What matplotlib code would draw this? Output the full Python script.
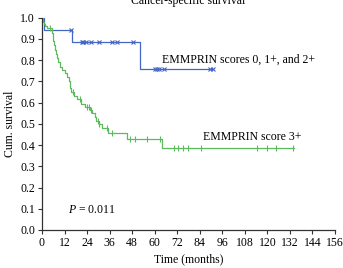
import numpy as np
import matplotlib
matplotlib.use("Agg")
import matplotlib.pyplot as plt

# EMMPRIN scores 0, 1+, 2+ (blue)
blue_t = [0, 1, 16, 52.2, 91]
blue_s = [1.0, 0.944, 0.885, 0.758, 0.758]
blue_cens = [15.6, 21.1, 22, 23.4, 25.9, 30.3, 37.4, 40.1, 48.3,
             60.2, 61.1, 62.5, 65, 89.5, 90.9]

# EMMPRIN score 3+ (green)
green_t = [0, 0.5, 1, 1.5, 2.5, 5.2, 5.6, 6, 6.5, 7, 7.5, 8, 8.5, 9.5, 10.5,
           12, 13.5, 14.5, 15, 15.5, 17, 18.5, 21, 23, 25.5, 26.5, 28, 29,
           30.5, 32, 35, 45, 64, 134]
green_s = [1.0, 0.98, 0.97, 0.96, 0.953, 0.93, 0.91, 0.89, 0.87, 0.85, 0.83,
           0.81, 0.79, 0.77, 0.755, 0.74, 0.72, 0.70, 0.67, 0.65, 0.63, 0.615,
           0.595, 0.58, 0.565, 0.55, 0.53, 0.515, 0.50, 0.48, 0.458, 0.429,
           0.386, 0.386]
green_cens = [4.3, 16.3, 20.2, 24.1, 25.2, 25.9, 29.7, 30.5, 34.4, 37.3,
              46.9, 49.5, 55.7, 62.8, 70.3, 72.6, 74.9, 77.6, 84.5, 114.3,
              119.6, 124.6, 133.8]

blue_col = "#4467c4"
green_col = "#5cbb5c"


def surv_at(times, surv, t):
    i = np.searchsorted(times, t, side="right") - 1
    return np.array(surv)[i]


plt.rcParams["font.family"] = ["Liberation Serif", "DejaVu Serif"]
plt.rcParams["mathtext.fontset"] = "custom"
plt.rcParams["mathtext.it"] = "Liberation Serif:italic"
plt.rcParams["mathtext.rm"] = "Liberation Serif"

fs = 8.5
fig = plt.figure(figsize=(3.43, 2.68), dpi=100)
ax = fig.add_axes([0.1224, 0.1418, 0.8543, 0.7922])

ax.step(blue_t, blue_s, where="post", color=blue_col, lw=0.9)
ax.plot(blue_cens, surv_at(blue_t, blue_s, blue_cens), "x", color=blue_col,
        ms=3, mew=0.8, ls="none")
ax.step(green_t, green_s, where="post", color=green_col, lw=0.9)
ax.plot(green_cens, surv_at(green_t, green_s, green_cens), "|", color=green_col,
        ms=4, mew=0.8, ls="none")

ax.text(63.7, 0.80, "EMMPRIN scores 0, 1+, and 2+", fontsize=fs, va="center")
ax.text(85.9, 0.437, "EMMPRIN score 3+", fontsize=fs, va="center")
ax.text(14, 0.094, "$P$ = 0.011", fontsize=fs, va="center")

ax.set_xlim(0, 156)
ax.set_ylim(0, 1.0)
ax.set_xticks(np.arange(0, 157, 12))
ax.set_yticks(np.arange(0, 1.01, 0.1))
ax.set_yticklabels(["%.1f" % v for v in np.arange(0, 1.01, 0.1)])
ax.tick_params(labelsize=fs, length=3, width=0.8, color="#333333", pad=2)
for s in ["top", "right"]:
    ax.spines[s].set_visible(False)
for s in ["left", "bottom"]:
    ax.spines[s].set_color("#333333")
    ax.spines[s].set_linewidth(0.9)

ax.set_xlabel("Time (months)", fontsize=fs, labelpad=3)
ax.set_ylabel("Cum. survival", fontsize=fs, labelpad=3)
fig.text(0.548, 0.998, "Cancer-specific survival", fontsize=fs,
         ha="center", va="center")

fig.savefig("out.png", dpi=100)
